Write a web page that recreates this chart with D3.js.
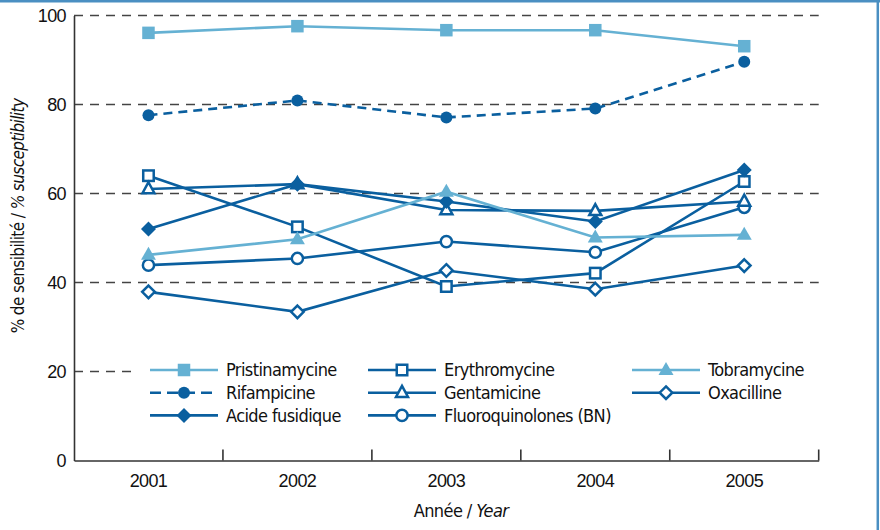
<!DOCTYPE html>
<html><head><meta charset="utf-8">
<script src="https://cdn.jsdelivr.net/npm/d3@7/dist/d3.min.js"></script>
<style>
body{margin:0;background:#fff;}
svg{display:block;font-family:'DejaVu Sans Condensed','Liberation Sans Narrow','Arial Narrow',sans-serif;letter-spacing:-0.6px;}
</style></head>
<body><svg id="chart" width="880" height="530"></svg>
<script>
const years = ["2001","2002","2003","2004","2005"];
const yTicks = [0,20,40,60,80,100];
const seriesNames = ["Pristinamycine","Erythromycine","Tobramycine","Rifampicine","Gentamicine","Oxacilline","Acide fusidique","Fluoroquinolones (BN)"];
const pristinamycine = [96.1,97.6,96.7,96.7,93.1];
const erythromycine = [64.0,52.5,39.1,42.1,62.7];
const tobramycine = [46.2,49.7,60.4,50.1,50.7];
const rifampicine = [77.6,80.9,77.1,79.1,89.6];
const gentamicine = [61.0,62.1,56.3,56.1,58.2];
const oxacilline = [37.9,33.4,42.7,38.5,43.8];
const acideFusidique = [52.0,62.1,58.2,53.7,65.3];
const fluoroquinolones = [43.9,45.4,49.2,46.8,56.9];

const LIGHT = "#65b1d3", DARK = "#0a5f9f", AX = "#333";
const styles = {
  "Pristinamycine":{v:pristinamycine,c:LIGHT,m:"square",fill:true,dash:null},
  "Erythromycine":{v:erythromycine,c:DARK,m:"square",fill:false,dash:null},
  "Tobramycine":{v:tobramycine,c:LIGHT,m:"triangle",fill:true,dash:null},
  "Rifampicine":{v:rifampicine,c:DARK,m:"circle",fill:true,dash:"9,6"},
  "Gentamicine":{v:gentamicine,c:DARK,m:"triangle",fill:false,dash:null},
  "Oxacilline":{v:oxacilline,c:DARK,m:"diamond",fill:false,dash:null},
  "Acide fusidique":{v:acideFusidique,c:DARK,m:"diamond",fill:true,dash:null},
  "Fluoroquinolones (BN)":{v:fluoroquinolones,c:DARK,m:"circle",fill:false,dash:null}
};
const drawOrder = ["Oxacilline","Fluoroquinolones (BN)","Erythromycine","Gentamicine","Acide fusidique","Tobramycine","Rifampicine","Pristinamycine"];

const svg = d3.select("#chart");
const x0 = 74, x1 = 818.7, yTop = 15.5, yBot = 460.5;
const x = d3.scaleBand().domain(years).range([x0,x1]);
const y = d3.scaleLinear().domain([0,100]).range([yBot,yTop]);

// frame
svg.append("line").attr("x1",0).attr("x2",880).attr("y1",1.2).attr("y2",1.2).attr("stroke","#4a8fc2").attr("stroke-width",2.5);
svg.append("line").attr("x1",877.8).attr("x2",877.8).attr("y1",0).attr("y2",530).attr("stroke","#4a8fc2").attr("stroke-width",2.5);

// grid
svg.append("g").selectAll("line").data(yTicks.filter(d=>d>0)).join("line")
  .attr("x1",x0).attr("x2",x1).attr("y1",d=>y(d)).attr("y2",d=>y(d))
  .attr("stroke","#444").attr("stroke-width",1.3).attr("stroke-dasharray","9,7");

// y axis
const ya = svg.append("g").attr("transform",`translate(${x0},0)`)
  .call(d3.axisLeft(y).tickValues(yTicks).tickSize(0).tickPadding(8));
ya.select(".domain").attr("stroke",AX).attr("stroke-width",1.6);
ya.selectAll("text").attr("font-size",18).attr("fill","#111").attr("font-family",null);

// x axis
const xa = svg.append("g").attr("transform",`translate(0,${yBot})`)
  .call(d3.axisBottom(x).tickSize(0).tickPadding(14));
xa.select(".domain").attr("stroke",AX).attr("stroke-width",1.6);
xa.selectAll("text").attr("font-size",18).attr("fill","#111").attr("font-family",null);
const bounds = years.map(d=>x(d)).concat([x1]).slice(1);
xa.append("g").selectAll("line").data(bounds).join("line")
  .attr("x1",d=>d).attr("x2",d=>d).attr("y1",0).attr("y2",-11).attr("stroke",AX).attr("stroke-width",1.6);

// titles
svg.append("text").attr("x",461).attr("y",517).attr("text-anchor","middle").attr("font-size",18).attr("fill","#111")
  .call(t=>{t.append("tspan").text("Année / ");t.append("tspan").attr("font-style","italic").text("Year");});
svg.append("text").attr("transform",`translate(24,216) rotate(-90)`).attr("text-anchor","middle").attr("font-size",17).attr("fill","#111")
  .call(t=>{t.append("tspan").text("% de sensibilité / ");t.append("tspan").attr("font-style","italic").text("% susceptibility");});

function marker(g, type, color, filled, cx, cy){
  const fill = filled ? color : "#fff";
  if(type==="square"){
    const s = filled?12.5:10.5;
    g.append("rect").attr("x",cx-s/2).attr("y",cy-s/2).attr("width",s).attr("height",s)
      .attr("fill",fill).attr("stroke",filled?"none":color).attr("stroke-width",2.5);
  } else if(type==="circle"){
    g.append("circle").attr("cx",cx).attr("cy",cy).attr("r",filled?6:5.6)
      .attr("fill",fill).attr("stroke",filled?"none":color).attr("stroke-width",2.5);
  } else if(type==="triangle"){
    const h = filled?13:11, w = filled?15:12;
    g.append("path").attr("d",`M${cx},${cy-h*0.62}L${cx+w/2},${cy+h*0.38}L${cx-w/2},${cy+h*0.38}Z`)
      .attr("fill",fill).attr("stroke",filled?"none":color).attr("stroke-width",2.5).attr("stroke-linejoin","miter");
  } else if(type==="diamond"){
    const r = filled?7.5:6.3;
    g.append("path").attr("d",`M${cx},${cy-r}L${cx+r},${cy}L${cx},${cy+r}L${cx-r},${cy}Z`)
      .attr("fill",fill).attr("stroke",filled?"none":color).attr("stroke-width",2.5);
  }
}

const line = d3.line().x((d,i)=>x(years[i])+x.bandwidth()/2).y(d=>y(d));
const plot = svg.append("g");
drawOrder.forEach(name=>{
  const s = styles[name];
  const g = plot.append("g");
  g.append("path").attr("d",line(s.v)).attr("fill","none").attr("stroke",s.c).attr("stroke-width",2.6)
    .attr("stroke-dasharray",s.dash);
  s.v.forEach((v,i)=>marker(g,s.m,s.c,s.fill,x(years[i])+x.bandwidth()/2,y(v)));
});

// legend
const lg = svg.append("g");
lg.append("rect").attr("x",136).attr("y",356).attr("width",684).attr("height",74).attr("fill","#fff");
const colX = [150,368,632], colW = 68, rowY = [370,392.7,415.4];
seriesNames.forEach((name,i)=>{
  const r = Math.floor(i/3), c = i%3, s = styles[name];
  const lx = colX[c], ly = rowY[r];
  const g = lg.append("g");
  g.append("line").attr("x1",lx).attr("x2",lx+colW).attr("y1",ly).attr("y2",ly).attr("stroke",s.c).attr("stroke-width",2.6)
    .attr("stroke-dasharray",s.dash?"11,6":null);
  marker(g,s.m,s.c,s.fill,lx+colW/2,ly);
  g.append("text").attr("x",lx+colW+8).attr("y",ly).attr("dy","0.36em").attr("font-size",18).attr("fill","#111").text(name);
});
</script></body></html>
